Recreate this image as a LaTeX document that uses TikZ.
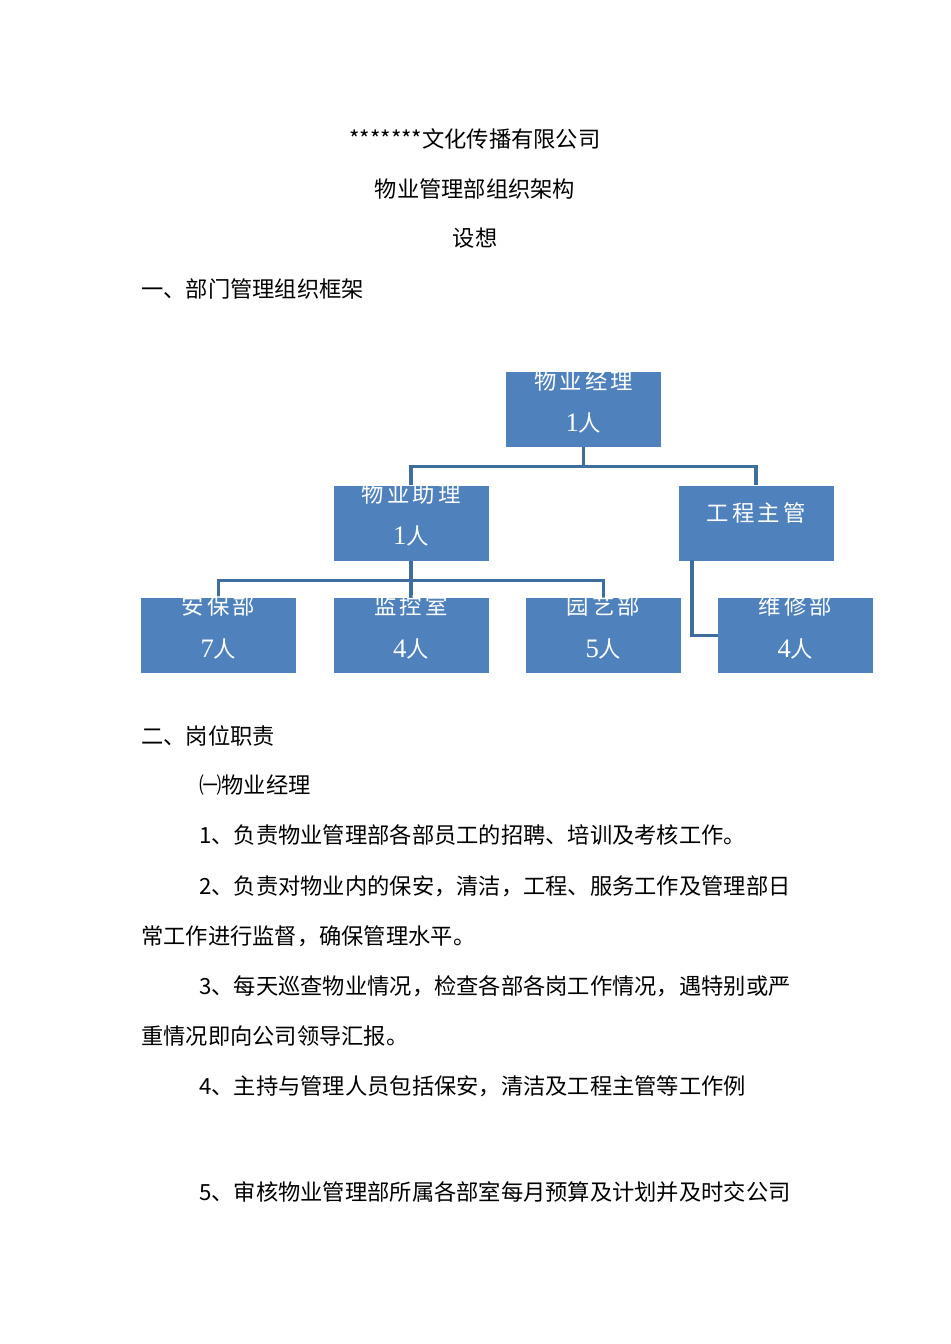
\documentclass[tikz,border=0pt]{standalone}
\usepackage{fontspec}
\newfontfamily\cjk{Noto Sans CJK SC}
\newfontfamily\boxcjk{Noto Sans CJK SC}[LetterSpace=14]
\newfontfamily\digitserif{Liberation Serif}
\definecolor{boxblue}{HTML}{4F81BD}
\definecolor{lineblue}{HTML}{3D6E9E}
\begin{document}
\begin{tikzpicture}[x=0.75pt,y=-0.75pt,
  orgbox/.style={rectangle,fill=boxblue,draw=none,minimum width=116.25pt,minimum height=56.25pt,inner sep=0pt},
  btxt/.style={font=\boxcjk\fontsize{16.8}{20}\selectfont,text=white,inner sep=0pt},
  conn/.style={draw=lineblue,line width=2.3pt},
  txt/.style={font=\cjk\fontsize{16.7}{20}\selectfont,text=black,inner sep=0pt,anchor=west},
  ctxt/.style={font=\cjk\fontsize{16.7}{20}\selectfont,text=black,inner sep=0pt}]
\useasboundingbox (0,0) rectangle (950,1344);
\fill[white] (0,0) rectangle (950,1344);

% headings
\node[ctxt] (t1) at (475,139) {*******文化传播有限公司};
\node[ctxt] (t2) at (475,189) {物业管理部组织架构};
\node[ctxt] (t3) at (475,238) {设想};
\node[txt] (h1) at (141,289) {一、部门管理组织框架};

% org chart boxes
\node[orgbox] (mgr) at (583.5,409.5) {};
\node[orgbox] (asst) at (411,523) {};
\node[orgbox] (eng) at (756,523) {};
\node[orgbox] (ab) at (218.5,635.5) {};
\node[orgbox] (jk) at (411,635.5) {};
\node[orgbox] (yy) at (603.5,635.5) {};
\node[orgbox] (wx) at (795.5,635.5) {};

% connectors
\draw[conn] (mgr.south) -- ++(0,19) -| (asst.north);
\draw[conn] (mgr.south) -- ++(0,19) -| (eng.north);
\draw[conn] (asst.south) -- ++(0,20) -| (ab.north);
\draw[conn] (asst.south) -- (jk.north);
\draw[conn] (asst.south) -- ++(0,20) -| (yy.north);
\coordinate (engdrop) at (692,560);
\draw[conn] (engdrop) |- (wx.west);

% box labels (white text; parts above the boxes vanish on white)
\node[btxt] (mgrA) at (583.5,381) {物业经理};
\node[btxt] (mgrB) at (583.5,423) {{\digitserif\fontsize{20}{20}\selectfont 1}人};
\node[btxt] (asstA) at (411,494) {物业助理};
\node[btxt] (asstB) at (411,536) {{\digitserif\fontsize{20}{20}\selectfont 1}人};
\node[btxt] (engA) at (756,513) {工程主管};
\node[btxt] (abA) at (218.5,606) {安保部};
\node[btxt] (abB) at (218.5,649) {{\digitserif\fontsize{20}{20}\selectfont 7}人};
\node[btxt] (jkA) at (411,606) {监控室};
\node[btxt] (jkB) at (411,649) {{\digitserif\fontsize{20}{20}\selectfont 4}人};
\node[btxt] (yyA) at (603.5,606) {园艺部};
\node[btxt] (yyB) at (603.5,649) {{\digitserif\fontsize{20}{20}\selectfont 5}人};
\node[btxt] (wxA) at (795.5,606) {维修部};
\node[btxt] (wxB) at (795.5,649) {{\digitserif\fontsize{20}{20}\selectfont 4}人};

% body text
\node[txt] (h2) at (141,736) {二、岗位职责};
\node[txt] (s1) at (199,785) {㈠物业经理};
\node[txt] (p1) at (199,835) {1、负责物业管理部各部员工的招聘、培训及考核工作。};
\node[txt] (p2) at (199,886) {2、负责对物业内的保安，清洁，工程、服务工作及管理部日};
\node[txt] (p2b) at (141,936) {常工作进行监督，确保管理水平。};
\node[txt] (p3) at (199,986) {3、每天巡查物业情况，检查各部各岗工作情况，遇特别或严};
\node[txt] (p3b) at (141,1036) {重情况即向公司领导汇报。};
\node[txt] (p4) at (199,1086) {4、主持与管理人员包括保安，清洁及工程主管等工作例};
\node[txt] (p5) at (199,1192) {5、审核物业管理部所属各部室每月预算及计划并及时交公司};
\end{tikzpicture}
\end{document}
